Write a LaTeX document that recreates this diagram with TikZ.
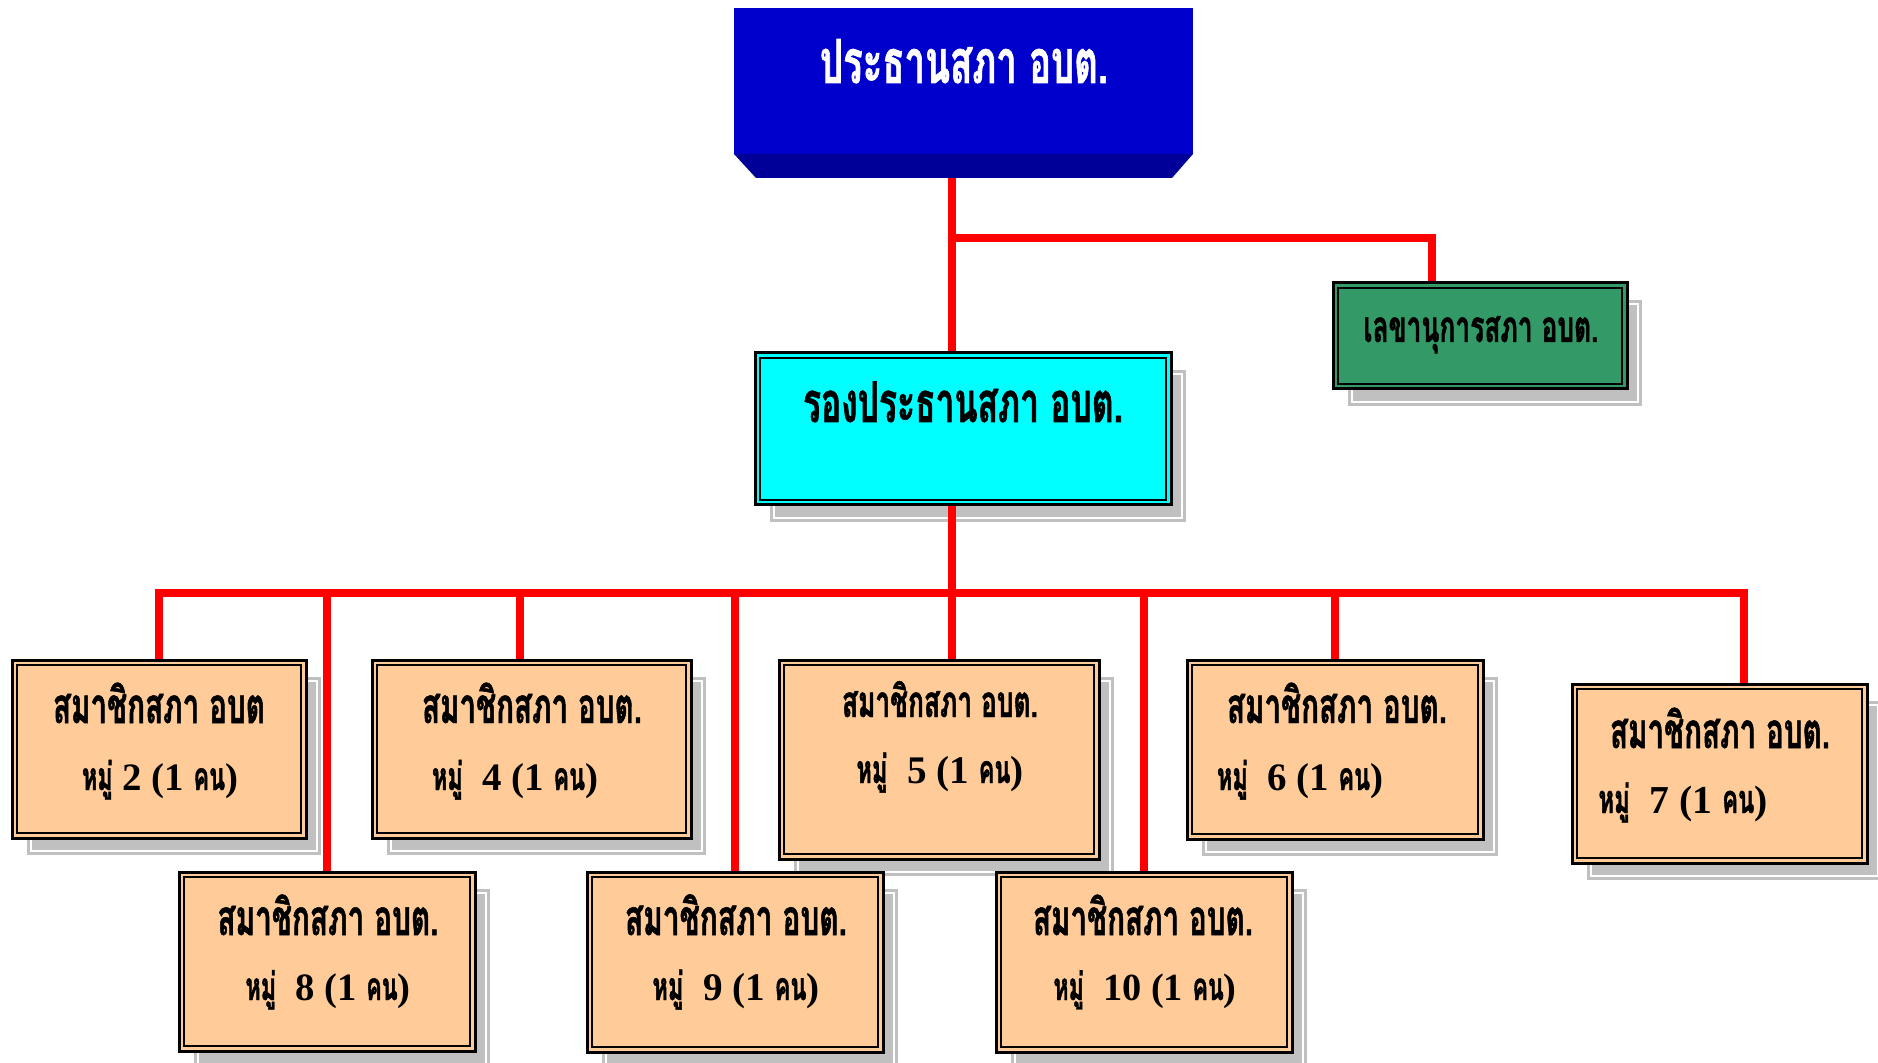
\documentclass[tikz,border=0pt]{standalone}
\usepackage{fontspec}
\usepackage{graphicx}
\usetikzlibrary{calc}
\newfontfamily\thaifont[Script=Thai,FakeStretch=0.6,FakeBold=1]{Loma}
\newfontfamily\latfont{Liberation Serif}
\definecolor{topblue}{RGB}{0,0,204}
\definecolor{topdark}{RGB}{0,0,153}
\definecolor{vicecyan}{RGB}{0,255,255}
\definecolor{secgreen}{RGB}{51,153,102}
\definecolor{peach}{RGB}{255,204,153}
\definecolor{shadowgray}{RGB}{192,192,192}
\definecolor{linered}{RGB}{255,0,0}
\newlength\pxu \setlength\pxu{0.5pt}
\newcommand\tht[1]{{\thaifont\bfseries #1}}
\newcommand\latn[1]{{\latfont\bfseries #1}}
\newcommand\fitw[2]{\resizebox{#1\pxu}{!}{#2}}
\pgfdeclarelayer{bg}
\pgfsetlayers{bg,main}
\tikzset{
  every node/.style={inner sep=0pt, outer sep=0pt},
  frame/.style={draw=black, line width=1.5pt, rectangle},
  redline/.style={draw=linered, line width=4pt, line join=miter},
  txt/.style={anchor=base, inner sep=0pt},
}
\newcommand\obtshadow[4]{%
  \fill[shadowgray] ({#1+15},{#2+17}) rectangle ({#3+15},{#4+17});
  \draw[white, line width=0.6pt] ({#1+19},{#2+21}) rectangle ({#3+11},{#4+13});
}
\newcommand\obtframe[6]{%
  \node[frame, fill=#6, minimum width={(#4-#2)*0.5pt}, minimum height={(#5-#3)*0.5pt}] (#1) at ({(#2+#4)/2},{(#3+#5)/2}) {};
  \draw[line width=1pt] ($(#1.north west)+(5,5)$) rectangle ($(#1.south east)+(-5,-5)$);
}
\newcommand\lineone[3]{\node[txt] at (#1,#2) {\fitw{#3}{\tht{สมาชิกสภา อบต.}}};}
\newcommand\linetwo[4]{\node[txt] at (#1,#2) {\fitw{#3}{\tht{หมู่}\latn{\ \ #4 (1 }\tht{คน}\latn{)}}};}
\begin{document}
\begin{tikzpicture}[x=0.5pt,y=-0.5pt]
\useasboundingbox (0,0) rectangle (1878,1063);

% helper coordinates for connector x positions
\coordinate (xT) at (952,0);
\coordinate (xS) at (1432,0);
\coordinate (x4) at (520,0);
\coordinate (x7) at (1744,0);
\coordinate (busy) at (0,593);
\coordinate (secy) at (0,238);

% top box (3D)
\node[fill=topblue, minimum width=229.5pt, minimum height=73pt] (top) at (963.5,81) {};
\fill[topdark] (top.south west) -- (top.south east) -- ++(-21,24) -- ($(top.south west)+(22,24)$) -- cycle;
\node[txt, white] (ttop) at (964,83) {\fitw{288}{\tht{ประธานสภา อบต.}}};

% boxes
\obtframe{vice}{755}{353}{1171}{505}{vicecyan}
\obtframe{sec}{1333}{283}{1627}{389}{secgreen}
\obtframe{m2}{12}{660}{306}{838}{peach}
\obtframe{m4}{372}{660}{691}{838}{peach}
\obtframe{m5}{779}{660}{1099}{859}{peach}
\obtframe{m6}{1187}{660}{1483}{839}{peach}
\obtframe{m7}{1572}{684}{1867}{863}{peach}
\obtframe{m8}{179}{872}{475}{1051}{peach}
\obtframe{m9}{587}{872}{883}{1052}{peach}
\obtframe{m10}{996}{872}{1292}{1052}{peach}

% texts
\node[txt] (tvice) at (963,422) {\fitw{320}{\tht{รองประธานสภา อบต.}}};
\node[txt] (tsec) at (1481,342) {\fitw{235}{\tht{เลขานุการสภา อบต.}}};
\node[txt] (t2a) at (159,723) {\fitw{212}{\tht{สมาชิกสภา อบต}}};
\node[txt] (t2b) at (160,790) {\fitw{156}{\tht{หมู่}\latn{ 2 (1 }\tht{คน}\latn{)}}};
\lineone{532}{723}{220}
\linetwo{515}{790}{166}{4}
\lineone{940}{717}{196}
\linetwo{940}{783}{167}{5}
\lineone{1337}{723}{220}
\linetwo{1300}{790}{166}{6}
\lineone{1720}{748}{220}
\linetwo{1683}{813}{169}{7}
\lineone{328}{935}{221}
\linetwo{328}{1000}{165}{8}
\lineone{736}{935}{222}
\linetwo{736}{1000}{167}{9}
\lineone{1143}{935}{220}
\linetwo{1145}{1000}{183}{10}

\begin{pgfonlayer}{bg}
\fill[white] (0,0) rectangle (1878,1063);
% shadows
\obtshadow{755}{353}{1171}{505}
\obtshadow{1333}{283}{1627}{389}
\obtshadow{12}{660}{306}{838}
\obtshadow{372}{660}{691}{838}
\obtshadow{779}{660}{1099}{859}
\obtshadow{1187}{660}{1483}{839}
\obtshadow{1572}{684}{1867}{863}
\obtshadow{179}{872}{475}{1051}
\obtshadow{587}{872}{883}{1052}
\obtshadow{996}{872}{1292}{1052}
% connectors
\draw[redline] (top.south -| xT) -- (vice.north -| xT);
\draw[redline] (xT |- secy) -| (sec.north -| xS);
\draw[redline] (vice.south -| xT) -- (m5.north -| xT);
\draw[redline] (m2.north) |- (x7 |- busy) -- (m7.north -| x7);
\draw[redline] (x4 |- busy) -- (m4.north -| x4);
\draw[redline] (m8.north |- busy) -- (m8.north);
\draw[redline] (m9.north |- busy) -- (m9.north);
\draw[redline] (m10.north |- busy) -- (m10.north);
\draw[redline] (m6.north |- busy) -- (m6.north);
\end{pgfonlayer}
\end{tikzpicture}
\end{document}
